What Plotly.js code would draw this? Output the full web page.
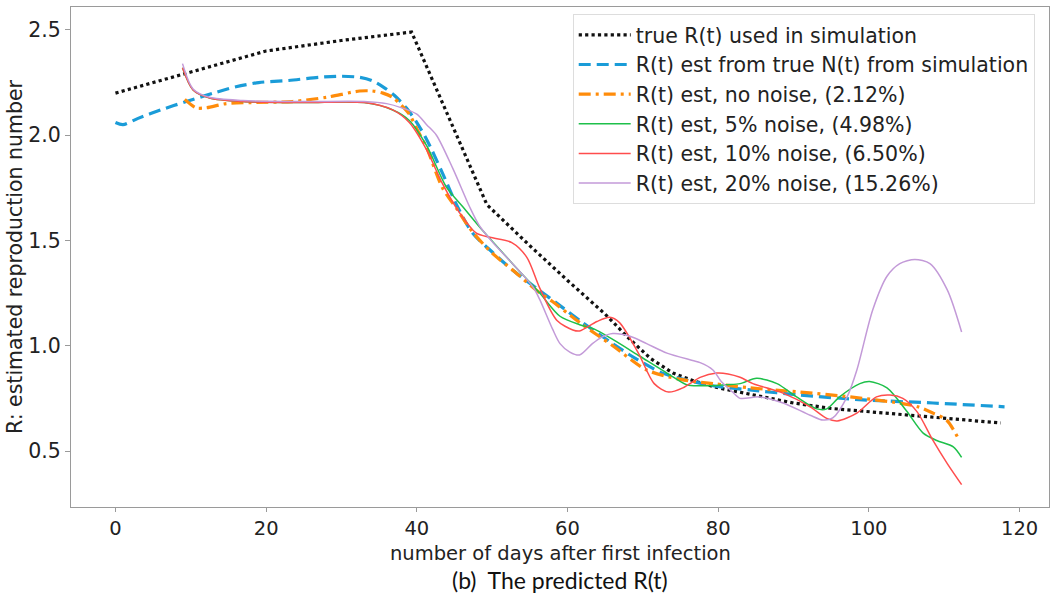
<!DOCTYPE html>
<html>
<head>
<meta charset="utf-8">
<script src="https://cdn.plot.ly/plotly-3.0.1.min.js"></script>
<style>html,body{margin:0;padding:0;background:#fff;}#chart{width:1053px;height:596px;}</style>
</head>
<body>
<div id="chart"></div>
<script>
// ---- data ----
const trueX = [0,10,20,30,39.3,49.3,55,60,65,68,71,74,77,80,85,90,95,100,105,110,117.5];
const trueR = [2.2,2.3,2.4,2.45,2.49,1.67,1.475,1.31,1.15,1.04,0.94,0.87,0.83,0.80,0.765,0.728,0.702,0.687,0.67,0.655,0.633];

const blueX = [0,1,3,6,9.4,13,16,19,23,27,30,32.4,34,35.5,37,38.6,40,41.3,43.4,45.4,47.4,50,52.7,56,59.4,62,66,69,72.6,76,79.3,84.2,90.8,99.7,108.5,118];
const blueR = [2.06,2.05,2.08,2.12,2.16,2.2,2.23,2.25,2.26,2.275,2.28,2.275,2.26,2.23,2.19,2.13,2.06,1.98,1.82,1.66,1.535,1.445,1.36,1.27,1.18,1.11,1.01,0.94,0.87,0.835,0.81,0.79,0.766,0.742,0.728,0.71];

const orangeX = [9.2,10.7,12,14.7,18,23.5,28,32.4,34.1,35.5,36.8,38,39,40,41.3,43.4,45.4,47.4,50,52.7,56,58,61.6,66,70.5,75,79.3,84.2,90.8,97.5,104,106.5,108.5,110.3,112];
const orangeR = [2.17,2.13,2.13,2.15,2.155,2.16,2.18,2.21,2.21,2.2,2.18,2.14,2.1,2.03,1.94,1.75,1.645,1.54,1.44,1.36,1.26,1.21,1.11,1.0,0.885,0.84,0.82,0.8,0.78,0.757,0.728,0.71,0.68,0.647,0.55];

const greenX = [8.9,10.3,12.5,16.9,25,33,36.8,39,41.3,43.9,46.1,48.3,52.7,56.3,59,61.6,63.5,66,69.6,73.2,75.8,77.6,79.3,81.1,82.9,85.1,87.8,90.4,93.1,94.4,96.1,98.8,100.1,102.4,105,107.2,109,111.2,112.3];
const greenR = [2.32,2.215,2.177,2.16,2.155,2.155,2.12,2.07,1.95,1.755,1.66,1.565,1.39,1.25,1.14,1.1,1.08,1.03,0.95,0.87,0.815,0.81,0.81,0.815,0.82,0.845,0.82,0.757,0.7,0.7,0.757,0.82,0.83,0.8,0.69,0.585,0.55,0.52,0.47];

const redX = [8.9,10.3,12.5,16.9,25,33,36.8,39,41.3,43.4,45.7,47.9,49.7,52.6,54.6,56.3,58.6,60.7,61.6,63.9,65.6,66.9,69.4,71.5,73.4,75.3,77.6,79.8,81.3,82.9,84.6,88.6,92.2,94.4,95.8,98.4,101,102.8,104.5,106.4,108.5,110.4,112.3];
const redR = [2.32,2.215,2.177,2.16,2.155,2.155,2.12,2.06,1.93,1.77,1.63,1.535,1.515,1.49,1.42,1.275,1.12,1.075,1.07,1.115,1.135,1.11,0.965,0.82,0.78,0.8,0.85,0.87,0.866,0.85,0.82,0.775,0.71,0.655,0.643,0.68,0.757,0.766,0.75,0.686,0.55,0.44,0.34];

const purpleX = [8.9,10.3,12.5,16.9,25,33,36,38,40,41.3,42.6,44.8,47,48.3,50.1,52.7,55.4,56.3,58,59,60.3,61.6,63.3,64.5,66,68.3,70.5,73.2,76.6,77.6,79.3,80.4,81.9,82.9,85.5,88.6,92.2,93.9,95.2,97.1,98.4,100.5,102.4,104.1,106.1,108.1,110.4,112.3];
const purpleR = [2.34,2.22,2.18,2.165,2.16,2.16,2.15,2.13,2.1,2.05,2.0,1.84,1.66,1.57,1.49,1.39,1.28,1.22,1.08,1.01,0.97,0.956,1.01,1.04,1.058,1.045,1.01,0.965,0.93,0.92,0.885,0.83,0.78,0.75,0.757,0.728,0.67,0.647,0.657,0.757,0.885,1.17,1.33,1.39,1.41,1.39,1.265,1.065];

const names = [
  'true R(t) used in simulation',
  'R(t) est from true N(t) from simulation',
  'R(t) est, no noise, (2.12%)',
  'R(t) est, 5% noise, (4.98%)',
  'R(t) est, 10% noise, (6.50%)',
  'R(t) est, 20% noise, (15.26%)'
];
const xTicks = [0,20,40,60,80,100,120];
const yTicks = [0.5,1.0,1.5,2.0,2.5];
const yTickText = ['0.5','1.0','1.5','2.0','2.5'];
const xTitle = 'number of days after first infection';
const yTitle = 'R: estimated reproduction number';
const caption = '(b)  The predicted R(t)';

const traces = [
  {x: trueX, y: trueR, name: names[0], legendgroup:'a', line:{color:'#111111', width:3.2, dash:'dot', shape:'linear'}},
  {x: blueX, y: blueR, name: names[1], legendgroup:'b', line:{color:'#1a9cd8', width:3.2, dash:'12px,6px', shape:'spline', smoothing:0.8}},
  {x: orangeX, y: orangeR, name: names[2], legendgroup:'c', line:{color:'#ff8c0a', width:3.2, dash:'12px,5px,3px,5px', shape:'spline', smoothing:0.8}},
  {x: greenX, y: greenR, name: names[3], legendgroup:'d', line:{color:'#1ec04a', width:1.5, shape:'spline', smoothing:0.8}},
  {x: redX, y: redR, name: names[4], legendgroup:'e', line:{color:'#ff4d4d', width:1.5, shape:'spline', smoothing:0.8}},
  {x: purpleX, y: purpleR, name: names[5], legendgroup:'f', line:{color:'#c39ad8', width:1.5, shape:'spline', smoothing:0.8}}
].map(t => Object.assign({type:'scatter', mode:'lines'}, t));

const font = 'DejaVu Sans, sans-serif';
const fs = 20.5;
const fx = 19.5;
const layout = {
  width: 1053, height: 596,
  margin: {l:71, r:4, t:7, b:89, pad:0},
  paper_bgcolor:'#ffffff', plot_bgcolor:'#ffffff',
  font: {family: font, size: fs, color:'#222222'},
  showlegend: true,
  legend: {
    x: 0.513, y: 0.986, xanchor:'left', yanchor:'top',
    bgcolor:'rgba(255,255,255,0.9)', bordercolor:'#dddddd', borderwidth:1,
    font:{family: font, size:fs, color:'#222222'},
    tracegroupgap: 0, traceorder:'grouped', itemwidth: 52
  },
  xaxis: {
    range: [-5.9, 123.9], tickvals: xTicks, ticktext: xTicks.map(String),
    showgrid:false, zeroline:false, showline:true, mirror:true, linecolor:'#9a9a9a', linewidth:1,
    ticks:'outside', ticklen:4, tickcolor:'#9a9a9a',
    tickfont:{family:font, size:fx, color:'#222222'}
  },
  yaxis: {
    range: [0.234, 2.609], tickvals: yTicks, ticktext: yTickText,
    showgrid:false, zeroline:false, showline:true, mirror:true, linecolor:'#9a9a9a', linewidth:1,
    ticks:'outside', ticklen:5, tickcolor:'#9a9a9a',
    tickfont:{family:font, size:fs, color:'#222222'},
    title:{text: yTitle, font:{family:font, size:fs, color:'#222222'}, standoff:0}
  },
  annotations: [
    {text: xTitle, xref:'paper', yref:'paper', x:0.5, y:-0.092, xanchor:'center', yanchor:'middle',
     showarrow:false, font:{family:font, size:fx, color:'#222222'}},
    {text: caption, xref:'paper', yref:'paper', x:0.5, y:-0.145, xanchor:'center', yanchor:'middle',
     showarrow:false, font:{family:'Lato, Open Sans, sans-serif', size:23, color:'#111111'}}
  ]
};

Plotly.newPlot('chart', traces, layout, {displayModeBar:false, staticPlot:true});
</script>
</body>
</html>
